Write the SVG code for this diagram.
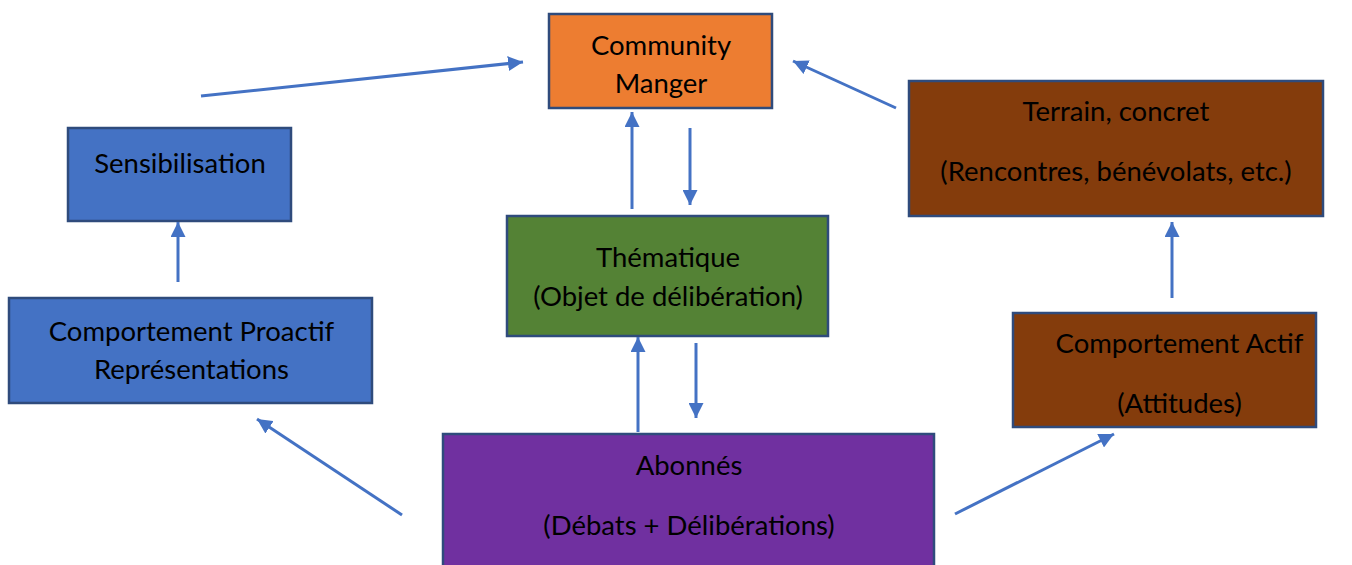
<svg xmlns="http://www.w3.org/2000/svg" width="1352" height="565" viewBox="0 0 1352 565">
<defs>
<marker id="ah" viewBox="0 0 10 10" refX="10" refY="5" markerWidth="5" markerHeight="5" orient="auto" markerUnits="strokeWidth">
<path d="M0,0 L10,5 L0,10 z" fill="#4472C4"/>
</marker>
<style>
.box{stroke:#2F4B7C;stroke-width:2.5}
.t{font-family:Lato,"Liberation Sans",sans-serif;font-size:27.5px;fill:#000;text-anchor:middle}
.c{stroke:#4472C4;stroke-width:3;fill:none;marker-end:url(#ah)}
</style>
</defs>
<rect width="1352" height="565" fill="#fff"/>
<g id="community">
<rect class="box" x="549" y="14" width="223" height="94" fill="#ED7D31"/>
<text class="t" x="661" y="55">Community</text>
<text class="t" x="661" y="93">Manger</text>
</g>
<g id="sensibilisation">
<rect class="box" x="68" y="128" width="223" height="93" fill="#4472C4"/>
<text class="t" x="180" y="173">Sensibilisation</text>
</g>
<g id="terrain">
<rect class="box" x="909" y="81" width="414" height="135" fill="#843C0C"/>
<text class="t" x="1116" y="121">Terrain, concret</text>
<text class="t" x="1116" y="181">(Rencontres, bénévolats, etc.)</text>
</g>
<g id="thematique">
<rect class="box" x="507" y="216" width="321" height="120" fill="#548235"/>
<text class="t" x="668" y="267">Thématique</text>
<text class="t" x="668" y="306">(Objet de délibération)</text>
</g>
<g id="proactif">
<rect class="box" x="9" y="298" width="363" height="105" fill="#4472C4"/>
<text class="t" x="191.5" y="341">Comportement Proactif</text>
<text class="t" x="191.5" y="379">Représentations</text>
</g>
<g id="actif">
<rect class="box" x="1013" y="313" width="303" height="114" fill="#843C0C"/>
<text class="t" x="1179.5" y="353">Comportement Actif</text>
<text class="t" x="1179.5" y="413">(Attitudes)</text>
</g>
<g id="abonnes">
<rect class="box" x="443" y="434" width="491" height="140" fill="#7030A0"/>
<text class="t" x="689" y="475">Abonnés</text>
<text class="t" x="689" y="535">(Débats + Délibérations)</text>
</g>
<g id="connectors">
<line class="c" x1="201" y1="96" x2="523" y2="62"/>
<line class="c" x1="896" y1="108" x2="793" y2="61"/>
<line class="c" x1="632" y1="209" x2="632" y2="112"/>
<line class="c" x1="690" y1="128" x2="690" y2="205"/>
<line class="c" x1="638" y1="432" x2="638" y2="337"/>
<line class="c" x1="696" y1="343" x2="696" y2="418"/>
<line class="c" x1="178" y1="282" x2="178" y2="222"/>
<line class="c" x1="1172" y1="298" x2="1172" y2="222"/>
<line class="c" x1="402" y1="515" x2="257" y2="419"/>
<line class="c" x1="955" y1="514" x2="1114" y2="434"/>
</g>
</svg>
